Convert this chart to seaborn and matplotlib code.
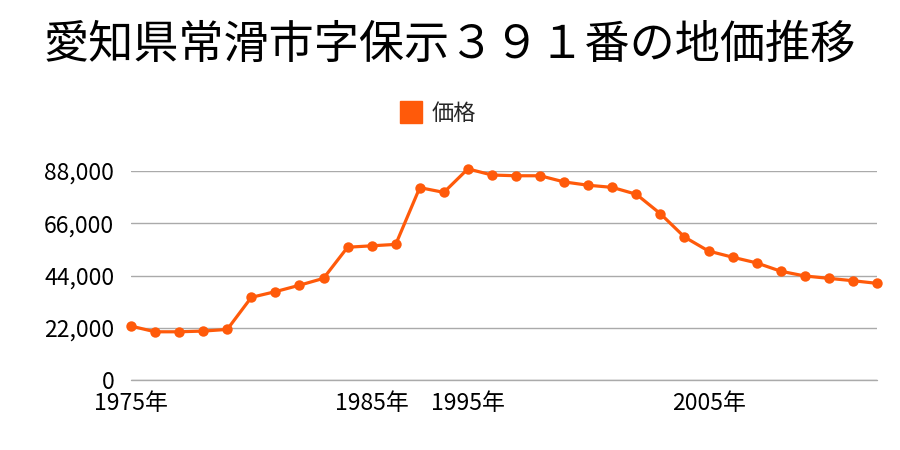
import numpy as np
import pandas as pd
import seaborn as sns
import matplotlib
matplotlib.use("Agg")
from matplotlib import pyplot as plt
from matplotlib.ticker import FuncFormatter
from matplotlib.lines import Line2D

years = [1975, 1976, 1977, 1978, 1979, 1980, 1981, 1982, 1983, 1984, 1985,
         1986, 1987, 1988, 1995, 1996, 1997, 1998, 1999, 2000, 2001, 2002,
         2003, 2004, 2005, 2006, 2007, 2008, 2009, 2010, 2011, 2012]
prices = [22700, 20300, 20300, 20600, 21300, 34800, 37200, 39900, 42800,
          55900, 56500, 57100, 81000, 79000, 88900, 86300, 86000, 86000,
          83400, 82000, 81100, 78200, 70000, 60200, 54300, 51700, 49300,
          45800, 43800, 42800, 41800, 40700]
shown_years = [1975, 1985, 1995, 2005]
yticks = [0, 22000, 44000, 66000, 88000]

df = pd.DataFrame({"idx": range(len(years)), "year": years, "price": prices})

sns.set_theme(style="white")
plt.rcParams['font.family'] = ['Noto Sans CJK JP', 'DejaVu Sans']

color = "#ff5a0a"
fig = plt.figure(figsize=(9, 4.5), dpi=100)
ax = fig.add_axes([131 / 900, 1 - 380 / 450, 746 / 900, 209 / 450])

ax.grid(axis="y", color="#aaaaaa", linewidth=1)
ax.axhline(0, color="#aaaaaa", linewidth=1, clip_on=False, zorder=1)
sns.lineplot(data=df, x="idx", y="price", ax=ax, color=color, linewidth=2.3,
             marker="o", markersize=7.5, markeredgewidth=0, clip_on=False,
             label="価格", legend=False, zorder=3)

ax.set_xlim(0, len(years) - 1)
ax.set_ylim(0, 88000)
ax.set_yticks(yticks)
ax.yaxis.set_major_formatter(FuncFormatter(lambda v, p: f"{int(v):,}"))
ticks = [i for i, y in enumerate(years) if y in shown_years]
ax.set_xticks(ticks)
ax.set_xticklabels([f"{years[i]}年" for i in ticks])
ax.tick_params(axis="y", labelsize=16.5, pad=12, length=0, colors="black")
ax.tick_params(axis="x", labelsize=16.5, pad=9, length=0, colors="black")
for s in ax.spines.values():
    s.set_visible(False)
ax.set_xlabel("")
ax.set_ylabel("")

fig.text(0.5, 1 - 45 / 450, "愛知県常滑市字保示３９１番の地価推移", ha="center",
         va="center", fontsize=32.5, color="black")
handle = Line2D([], [], marker="s", color=color, linestyle="", markersize=16)
fig.legend([handle], ["価格"], loc="center", bbox_to_anchor=(438 / 900, 1 - 113 / 450),
           frameon=False, fontsize=16, handlelength=1.0, handletextpad=0.4)

fig.savefig("out.png", dpi=100)
